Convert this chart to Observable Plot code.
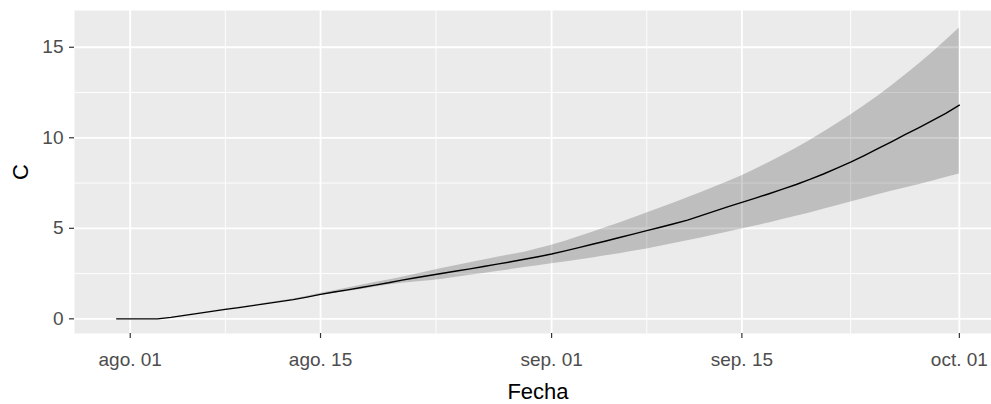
<!DOCTYPE html>
<html><head><meta charset="utf-8">
<script src="https://cdn.jsdelivr.net/npm/d3@7"></script>
<script src="https://cdn.jsdelivr.net/npm/@observablehq/plot@0.6"></script>
<style>
html,body{margin:0;padding:0;background:#fff;overflow:hidden}
#chart svg{display:block;font-family:"Liberation Sans",Arial,sans-serif}
</style>
</head><body><div id="chart"></div><script>
// ---- data ----
const startDate = "2020-07-31"; // first day of the series, one value per day
const lineC = [
  0,0,0,0,0.08,0.19,0.30,0.41,0.52,0.62,
  0.73,0.84,0.95,1.06,1.20,1.35,1.48,1.60,1.73,1.86,
  1.99,2.14,2.27,2.39,2.52,2.64,2.76,2.89,3.02,3.15,
  3.29,3.43,3.58,3.75,3.93,4.12,4.30,4.49,4.68,4.87,
  5.06,5.25,5.45,5.70,5.95,6.20,6.43,6.67,6.91,7.16,
  7.42,7.70,8.00,8.32,8.65,9.02,9.40,9.78,10.17,10.55,
  10.95,11.35,11.80
];
const upperC = [
  0,0,0,0,0.09,0.20,0.31,0.42,0.54,0.64,
  0.75,0.87,0.98,1.10,1.25,1.41,1.55,1.70,1.85,2.00,
  2.15,2.30,2.46,2.63,2.80,2.95,3.10,3.25,3.40,3.54,
  3.68,3.87,4.07,4.29,4.53,4.78,5.04,5.30,5.57,5.85,
  6.12,6.40,6.69,6.98,7.28,7.59,7.90,8.26,8.63,9.02,
  9.42,9.85,10.30,10.77,11.26,11.77,12.30,12.86,13.45,14.06,
  14.70,15.37,16.06
];
const lowerC = [
  0,0,0,0,0.07,0.18,0.29,0.40,0.50,0.60,
  0.71,0.81,0.92,1.02,1.15,1.29,1.41,1.51,1.62,1.74,
  1.87,1.96,2.04,2.11,2.19,2.30,2.41,2.51,2.62,2.72,
  2.83,2.93,3.04,3.14,3.25,3.36,3.48,3.60,3.73,3.86,
  4.01,4.16,4.31,4.47,4.63,4.79,4.96,5.13,5.30,5.48,
  5.66,5.85,6.05,6.25,6.45,6.65,6.85,7.04,7.22,7.40,
  7.60,7.80,8.00
];
const xTickDates = ["2020-08-01","2020-08-15","2020-09-01","2020-09-15","2020-10-01"];
const xTickLabels = ["ago. 01","ago. 15","sep. 01","sep. 15","oct. 01"];
const xMinorDates = ["2020-08-08","2020-08-23T12:00","2020-09-08","2020-09-23"];
const yTicks = [0, 5, 10, 15];
const yMinorTicks = [2.5, 7.5, 12.5];
const yDomain = [-0.81, 17.03];
const xLabel = "Fecha";
const yLabel = "C";

// ---- build table ----
const DAY = 864e5;
const parseUTC = s => new Date(s.length === 10 ? s + "T00:00Z" : s + "Z");
const t0 = parseUTC(startDate);
const data = lineC.map((v, i) => ({date: new Date(+t0 + i * DAY), C: v, lo: lowerC[i], hi: upperC[i]}));
const xTicks = xTickDates.map(parseUTC);
const xMinor = xMinorDates.map(parseUTC);
const [dMin, dMax] = d3.extent(data, d => d.date);
const pad = (dMax - dMin) * 0.05;
const xDomain = [new Date(+dMin - pad), new Date(+dMax + pad)];

const plot = Plot.plot({
  width: 991,
  height: 404,
  marginLeft: 74,
  marginRight: -10,
  marginTop: 10,
  marginBottom: 71,
  style: {fontFamily: "'Liberation Sans', Arial, sans-serif", overflow: "hidden", background: "#fff"},
  x: {type: "utc", domain: xDomain},
  y: {domain: yDomain},
  marks: [
    Plot.frame({fill: "#EBEBEB", stroke: null}),
    Plot.gridY(yMinorTicks, {stroke: "#fff", strokeOpacity: 1, strokeWidth: 0.9}),
    Plot.gridX(xMinor, {stroke: "#fff", strokeOpacity: 1, strokeWidth: 0.9}),
    Plot.gridY(yTicks, {stroke: "#fff", strokeOpacity: 1, strokeWidth: 1.8}),
    Plot.gridX(xTicks, {stroke: "#fff", strokeOpacity: 1, strokeWidth: 1.8}),
    Plot.areaY(data, {x: "date", y1: "lo", y2: "hi", fill: "#000", fillOpacity: 0.19}),
    Plot.lineY(data, {x: "date", y: "C", stroke: "#000", strokeWidth: 1.4}),
    Plot.axisX(xTicks, {
      tickFormat: (d, i) => xTickLabels[i],
      tickSize: 5, tickPadding: 14, fontSize: 19,
      label: xLabel, labelAnchor: "center", labelOffset: 65, labelArrow: "none"
    }),
    Plot.axisY(yTicks, {
      tickSize: 5, tickPadding: 6, fontSize: 19,
      label: yLabel, labelAnchor: "center", labelOffset: 62, labelArrow: "none"
    })
  ]
});
document.getElementById("chart").appendChild(plot);

// styling of axis parts (ggplot grey theme colours)
plot.querySelectorAll('g[aria-label$="-axis tick"]').forEach(g => { g.setAttribute("stroke", "#333333"); g.setAttribute("stroke-width", "1.2"); });
plot.querySelectorAll('g[aria-label$="-axis tick label"]').forEach(g => g.setAttribute("fill", "#4D4D4D"));
plot.querySelectorAll('g[aria-label$="-axis label"]').forEach(g => { g.setAttribute("fill", "#000"); g.setAttribute("font-size", "22"); });
</script></body></html>
